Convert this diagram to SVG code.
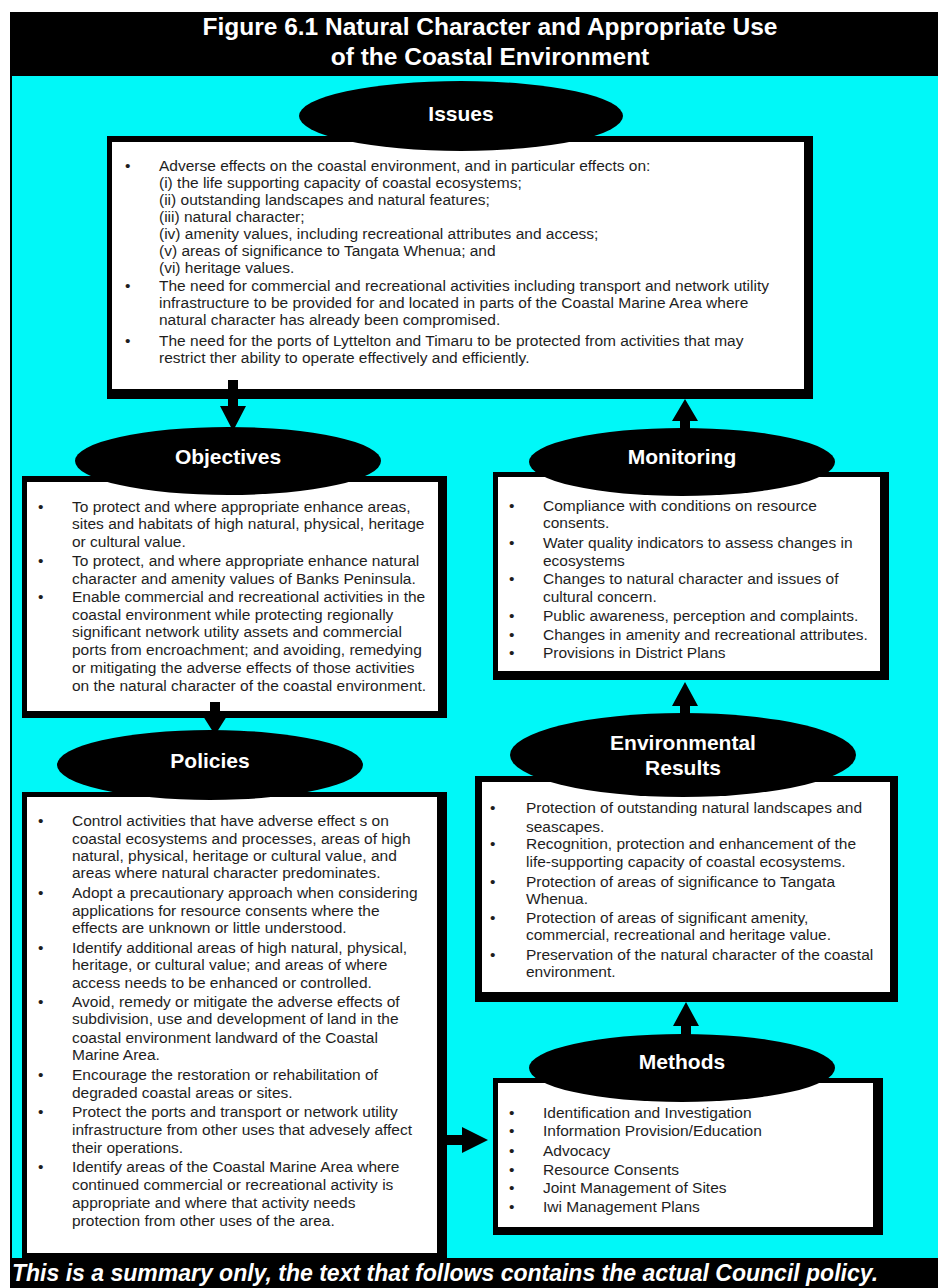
<svg xmlns="http://www.w3.org/2000/svg" width="938" height="1288" viewBox="0 0 938 1288">
<style>
.frame{fill:#000}
.sea{fill:#00f8f8}
.outer{fill:#000}
.inner{fill:#fff}
.ell{fill:#000}
.title{font-family:"Liberation Sans",Arial,sans-serif;font-weight:bold;font-size:24.5px;fill:#fff;text-anchor:middle}
.lbl{font-family:"Liberation Sans",Arial,sans-serif;font-weight:bold;font-size:21px;fill:#fff;text-anchor:middle}
.body{font-family:"Liberation Sans",Arial,sans-serif;font-size:15.5px;fill:#1e1e1e}
.foot{font-family:"Liberation Sans",Arial,sans-serif;font-weight:bold;font-style:italic;font-size:23px;fill:#fff}
.arrow{fill:#000}
</style>
<rect x="0" y="0" width="938" height="1288" fill="#fff"/>
<rect class="frame" x="10" y="12" width="928" height="1276"/>
<rect class="sea" x="12" y="76" width="926" height="1182"/>
<g id="title">
<text class="title" x="490" y="35">Figure 6.1 Natural Character and Appropriate Use</text>
<text class="title" x="490" y="65">of the Coastal Environment</text>
</g>
<g id="issues">
<rect class="outer" x="107" y="136" width="706" height="263"/>
<rect class="inner" x="112" y="142" width="692" height="247"/>
<ellipse class="ell" cx="461" cy="116" rx="162" ry="35"/>
<text class="lbl" x="461" y="121">Issues</text>
<g class="body">
<text x="125" y="171">•</text><text x="159" y="171">Adverse effects on the coastal environment, and in particular effects on:</text>
<text x="159" y="188">(i) the life supporting capacity of coastal ecosystems;</text>
<text x="159" y="205">(ii) outstanding landscapes and natural features;</text>
<text x="159" y="222">(iii) natural character;</text>
<text x="159" y="239">(iv) amenity values, including recreational attributes and access;</text>
<text x="159" y="256">(v) areas of significance to Tangata Whenua; and</text>
<text x="159" y="273">(vi) heritage values.</text>
<text x="125" y="291">•</text><text x="159" y="291">The need for commercial and recreational activities including transport and network utility</text>
<text x="159" y="308">infrastructure to be provided for and located in parts of the Coastal Marine Area where</text>
<text x="159" y="325">natural character has already been compromised.</text>
<text x="125" y="346">•</text><text x="159" y="346">The need for the ports of Lyttelton and Timaru to be protected from activities that may</text>
<text x="159" y="363">restrict ther ability to operate effectively and efficiently.</text>
</g>
</g>
<g id="objectives">
<rect class="outer" x="22" y="476" width="425" height="242"/>
<rect class="inner" x="27" y="482" width="411" height="229"/>
<ellipse class="ell" cx="228" cy="461" rx="153" ry="34"/>
<text class="lbl" x="228" y="464">Objectives</text>
<g class="body">
<text x="38" y="512">•</text><text x="72" y="512">To protect and where appropriate enhance areas,</text>
<text x="72" y="529">sites and habitats of high natural, physical, heritage</text>
<text x="72" y="547">or cultural value.</text>
<text x="38" y="566">•</text><text x="72" y="566">To protect, and where appropriate enhance natural</text>
<text x="72" y="584">character and amenity values of Banks Peninsula.</text>
<text x="38" y="602">•</text><text x="72" y="602">Enable commercial and recreational activities in the</text>
<text x="72" y="620">coastal environment while protecting regionally</text>
<text x="72" y="637">significant network utility assets and commercial</text>
<text x="72" y="655">ports from encroachment; and avoiding, remedying</text>
<text x="72" y="673">or mitigating the adverse effects of those activities</text>
<text x="72" y="691">on the natural character of the coastal environment.</text>
</g>
</g>
<g id="monitoring">
<rect class="outer" x="493" y="472" width="396" height="208"/>
<rect class="inner" x="498" y="477" width="382" height="194"/>
<ellipse class="ell" cx="682" cy="462" rx="153" ry="34"/>
<text class="lbl" x="682" y="464">Monitoring</text>
<g class="body">
<text x="509" y="511">•</text><text x="543" y="511">Compliance with conditions on resource</text>
<text x="543" y="528">consents.</text>
<text x="509" y="548">•</text><text x="543" y="548">Water quality indicators to assess changes in</text>
<text x="543" y="566">ecosystems</text>
<text x="509" y="584">•</text><text x="543" y="584">Changes to natural character and issues of</text>
<text x="543" y="602">cultural concern.</text>
<text x="509" y="621">•</text><text x="543" y="621">Public awareness, perception and complaints.</text>
<text x="509" y="640">•</text><text x="543" y="640">Changes in amenity and recreational attributes.</text>
<text x="509" y="658">•</text><text x="543" y="658">Provisions in District Plans</text>
</g>
</g>
<g id="policies">
<rect class="outer" x="22" y="792" width="425" height="466"/>
<rect class="inner" x="27" y="797" width="410" height="456"/>
<ellipse class="ell" cx="210" cy="765" rx="153" ry="35"/>
<text class="lbl" x="210" y="768">Policies</text>
<g class="body">
<text x="38" y="826">•</text><text x="72" y="826">Control activities that have adverse effect s on</text>
<text x="72" y="844">coastal ecosystems and processes, areas of high</text>
<text x="72" y="861">natural, physical, heritage or cultural value, and</text>
<text x="72" y="878">areas where natural character predominates.</text>
<text x="38" y="898">•</text><text x="72" y="898">Adopt a precautionary approach when considering</text>
<text x="72" y="916">applications for resource consents where the</text>
<text x="72" y="933">effects are unknown or little understood.</text>
<text x="38" y="953">•</text><text x="72" y="953">Identify additional areas of high natural, physical,</text>
<text x="72" y="970">heritage, or cultural value; and areas of where</text>
<text x="72" y="988">access needs to be enhanced or controlled.</text>
<text x="38" y="1007">•</text><text x="72" y="1007">Avoid, remedy or mitigate the adverse effects of</text>
<text x="72" y="1024">subdivision, use and development of land in the</text>
<text x="72" y="1043">coastal environment landward of the Coastal</text>
<text x="72" y="1060">Marine Area.</text>
<text x="38" y="1080">•</text><text x="72" y="1080">Encourage the restoration or rehabilitation of</text>
<text x="72" y="1098">degraded coastal areas or sites.</text>
<text x="38" y="1117">•</text><text x="72" y="1117">Protect the ports and transport or network utility</text>
<text x="72" y="1135">infrastructure from other uses that advesely affect</text>
<text x="72" y="1153">their operations.</text>
<text x="38" y="1172">•</text><text x="72" y="1172">Identify areas of the Coastal Marine Area where</text>
<text x="72" y="1190">continued commercial or recreational activity is</text>
<text x="72" y="1208">appropriate and where that activity needs</text>
<text x="72" y="1226">protection from other uses of the area.</text>
</g>
</g>
<g id="environmental-results">
<rect class="outer" x="475" y="776" width="423" height="226"/>
<rect class="inner" x="482" y="782" width="408" height="210"/>
<ellipse class="ell" cx="683" cy="755" rx="173" ry="42"/>
<text class="lbl" x="683" y="750">Environmental</text>
<text class="lbl" x="683" y="775">Results</text>
<g class="body">
<text x="490" y="813">•</text><text x="526" y="813">Protection of outstanding natural landscapes and</text>
<text x="526" y="832">seascapes.</text>
<text x="490" y="849">•</text><text x="526" y="849">Recognition, protection and enhancement of the</text>
<text x="526" y="867">life-supporting capacity of coastal ecosystems.</text>
<text x="490" y="887">•</text><text x="526" y="887">Protection of areas of significance to Tangata</text>
<text x="526" y="904">Whenua.</text>
<text x="490" y="923">•</text><text x="526" y="923">Protection of areas of significant amenity,</text>
<text x="526" y="940">commercial, recreational and heritage value.</text>
<text x="490" y="960">•</text><text x="526" y="960">Preservation of the natural character of the coastal</text>
<text x="526" y="977">environment.</text>
</g>
</g>
<g id="methods">
<rect class="outer" x="493" y="1078" width="390" height="157"/>
<rect class="inner" x="498" y="1083" width="375" height="144"/>
<ellipse class="ell" cx="682" cy="1068" rx="153" ry="34"/>
<text class="lbl" x="682" y="1069">Methods</text>
<g class="body">
<text x="509" y="1118">•</text><text x="543" y="1118">Identification and Investigation</text>
<text x="509" y="1136">•</text><text x="543" y="1136">Information Provision/Education</text>
<text x="509" y="1156">•</text><text x="543" y="1156">Advocacy</text>
<text x="509" y="1175">•</text><text x="543" y="1175">Resource Consents</text>
<text x="509" y="1193">•</text><text x="543" y="1193">Joint Management of Sites</text>
<text x="509" y="1212">•</text><text x="543" y="1212">Iwi Management Plans</text>
</g>
</g>
<g id="connectors">
<polygon class="arrow" points="228,380 238,380 238,406 246,406 233,431 220,406 228,406"/>
<polygon class="arrow" points="210,702 220,702 220,716 227,716 215,735 203,716 210,716"/>
<polygon class="arrow" points="447,1135 462,1135 462,1127 488,1140 462,1153 462,1145 447,1145"/>
<polygon class="arrow" points="681,1038 691,1038 691,1026 699,1026 686,1002 673,1026 681,1026"/>
<polygon class="arrow" points="680,716 690,716 690,706 698,706 685,682 672,706 680,706"/>
<polygon class="arrow" points="680,431 690,431 690,421 698,421 685,399 672,421 680,421"/>
</g>
<g id="footer">
<text class="foot" x="12" y="1281">This is a summary only, the text that follows contains the actual Council policy.</text>
</g>
</svg>
